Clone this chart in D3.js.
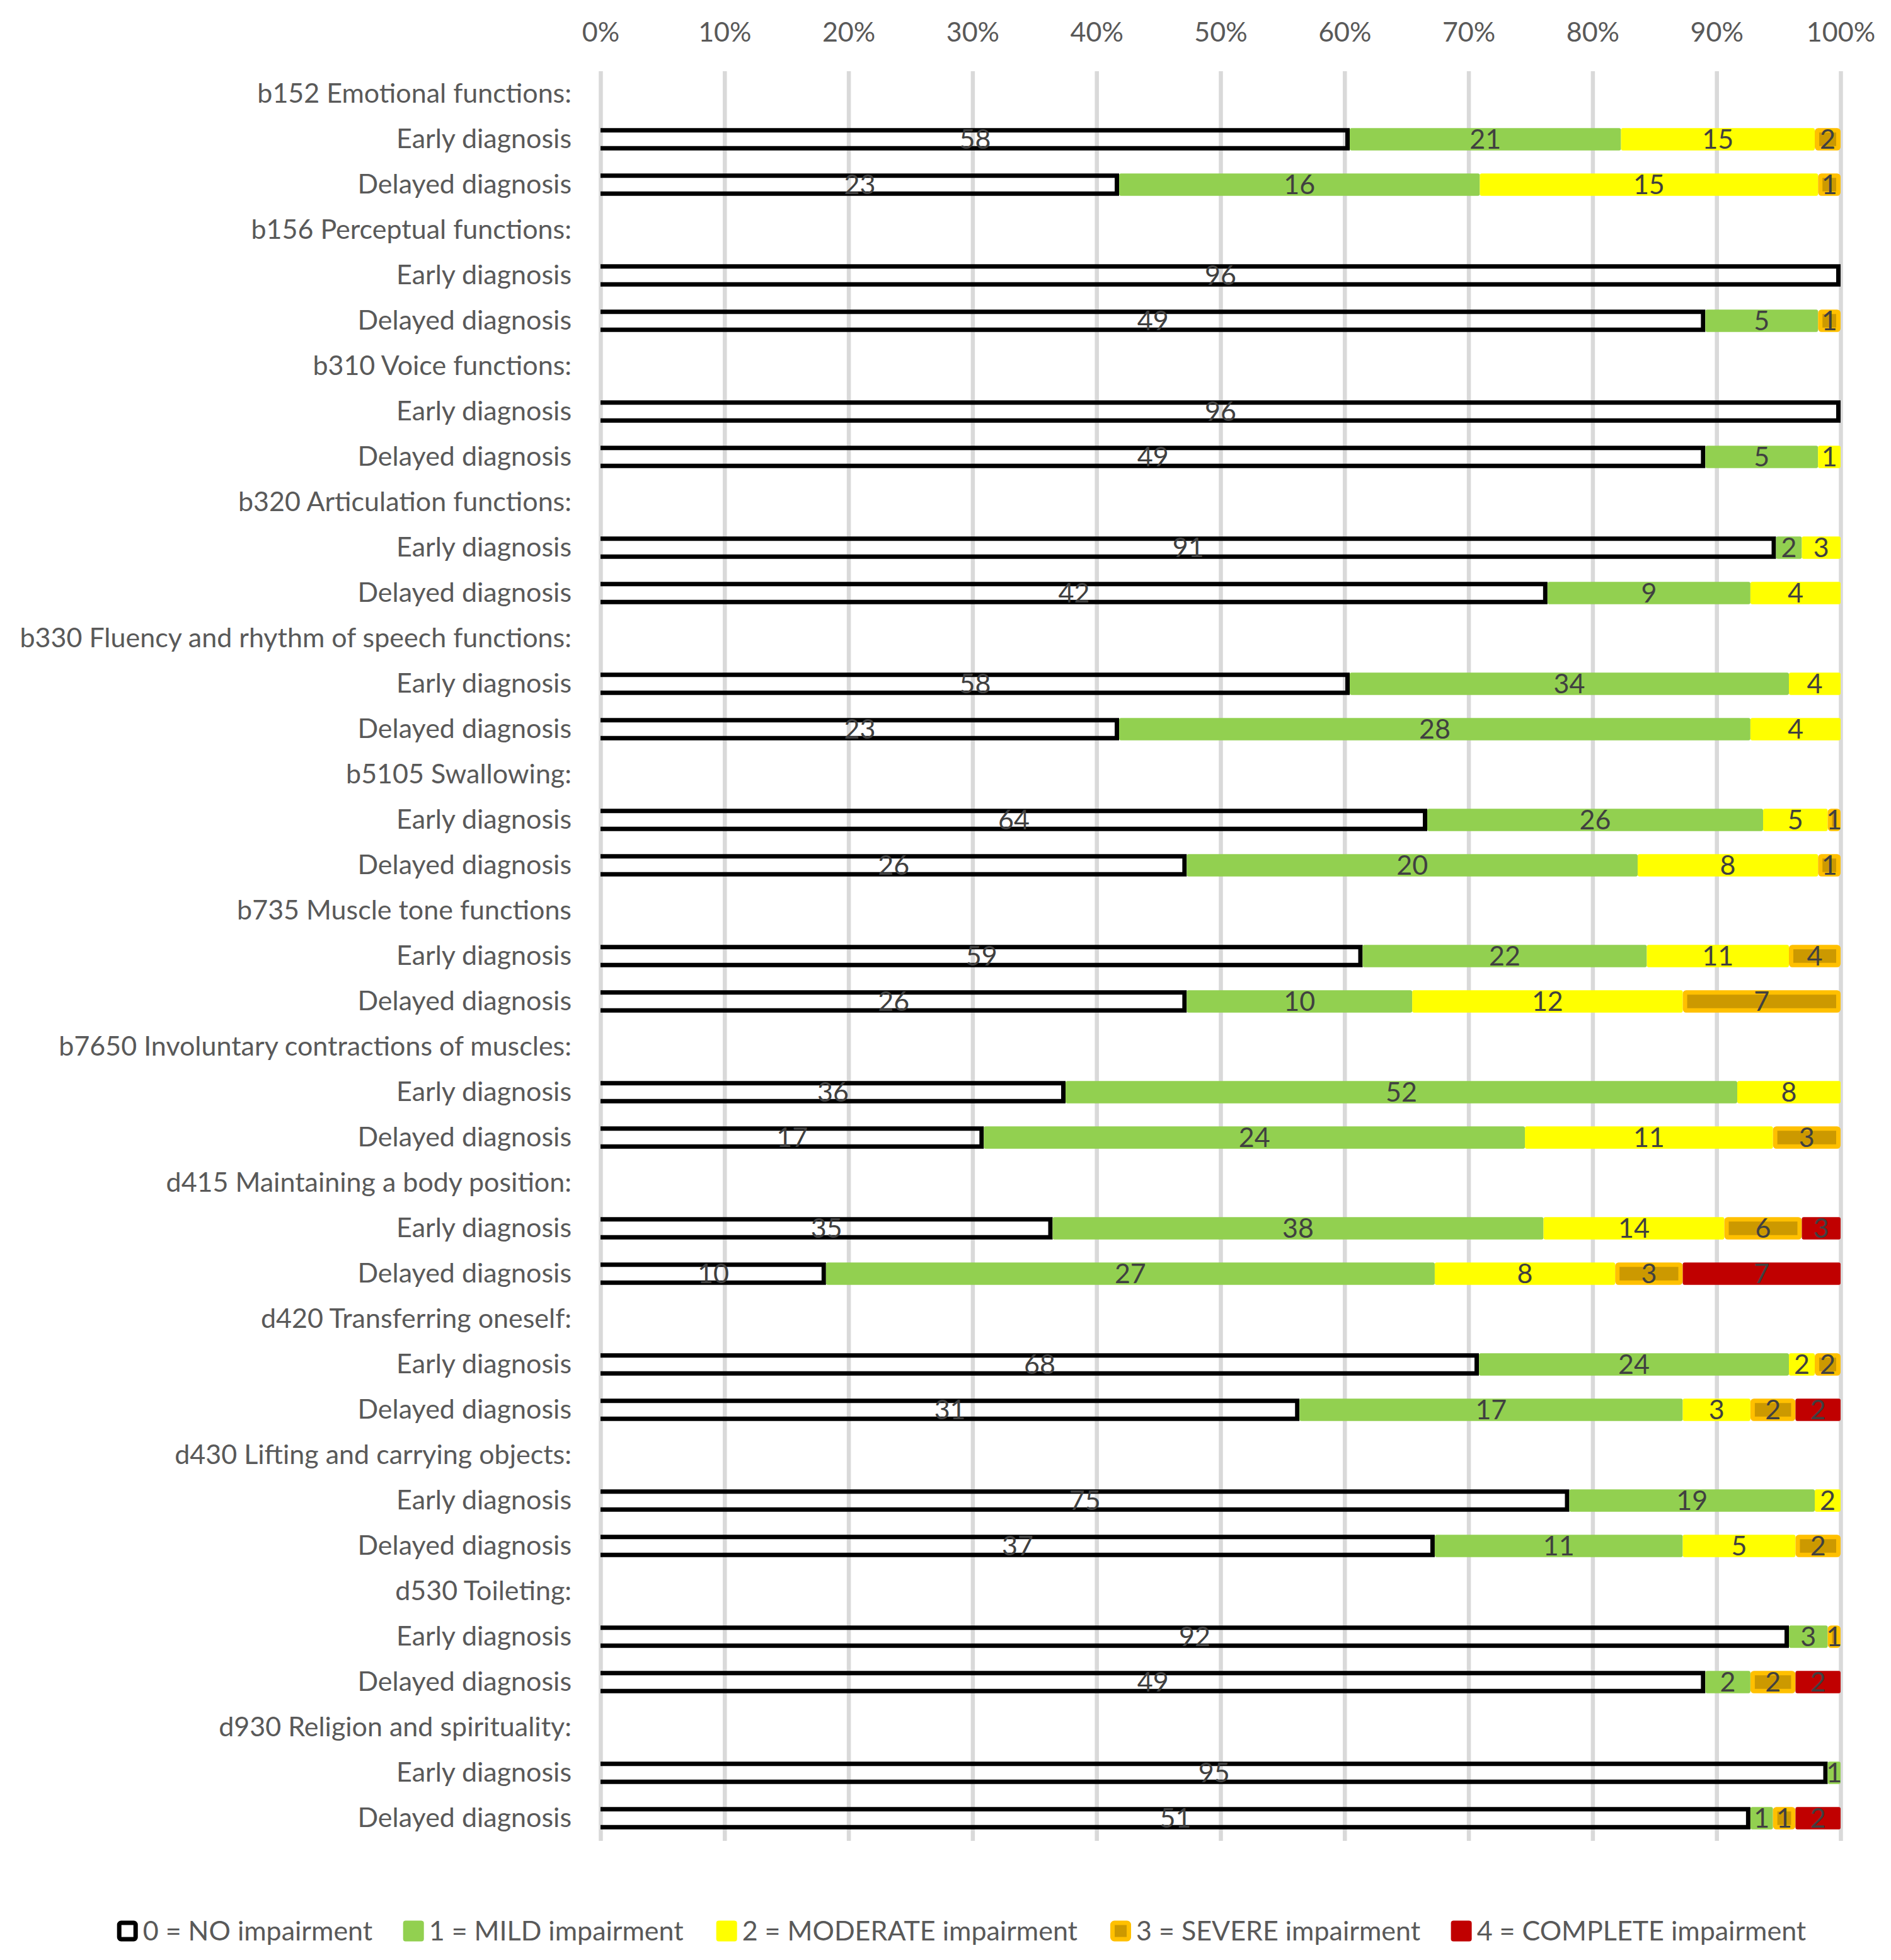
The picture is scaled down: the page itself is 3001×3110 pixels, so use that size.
<!DOCTYPE html>
<html>
<head>
<meta charset="utf-8">
<script src="https://cdn.jsdelivr.net/npm/d3@7"></script>
<style>
  body { margin: 0; background: #fff; }
  text { font-family: Lato, "Open Sans", sans-serif; }
</style>
</head>
<body>
<div id="chart"></div>
<script>
// categories (ICF codes) and the two groups shown under each
const categories = [
    "b152 Emotional functions:",
    "b156 Perceptual functions:",
    "b310 Voice functions:",
    "b320 Articulation functions:",
    "b330 Fluency and rhythm of speech functions:",
    "b5105 Swallowing:",
    "b735 Muscle tone functions",
    "b7650 Involuntary contractions of muscles:",
    "d415 Maintaining a body position:",
    "d420 Transferring oneself:",
    "d430 Lifting and carrying objects:",
    "d530 Toileting:",
    "d930 Religion and spirituality:"
];
const groups = ["Early diagnosis", "Delayed diagnosis"];
const levels = ["none", "mild", "moderate", "severe", "complete"];
const levelNames = [
    "0 = NO impairment",
    "1 = MILD impairment",
    "2 = MODERATE impairment",
    "3 = SEVERE impairment",
    "4 = COMPLETE impairment"
];

// counts per level, one value per category
const noneEarly       = [58, 96, 96, 91, 58, 64, 59, 36, 35, 68, 75, 92, 95];
const noneDelayed     = [23, 49, 49, 42, 23, 26, 26, 17, 10, 31, 37, 49, 51];
const mildEarly       = [21, 0, 0, 2, 34, 26, 22, 52, 38, 24, 19, 3, 1];
const mildDelayed     = [16, 5, 5, 9, 28, 20, 10, 24, 27, 17, 11, 2, 1];
const moderateEarly   = [15, 0, 0, 3, 4, 5, 11, 8, 14, 2, 2, 0, 0];
const moderateDelayed = [15, 0, 1, 4, 4, 8, 12, 11, 8, 3, 5, 0, 0];
const severeEarly     = [2, 0, 0, 0, 0, 1, 4, 0, 6, 2, 0, 1, 0];
const severeDelayed   = [1, 1, 0, 0, 0, 1, 7, 3, 3, 2, 2, 2, 1];
const completeEarly   = [0, 0, 0, 0, 0, 0, 0, 0, 3, 0, 0, 0, 0];
const completeDelayed = [0, 0, 0, 0, 0, 0, 0, 0, 7, 2, 0, 2, 2];

const xTicks = [0, 0.1, 0.2, 0.3, 0.4, 0.5, 0.6, 0.7, 0.8, 0.9, 1];

const colors = {
    none: "#000000",
    mild: "#92D050",
    moderate: "#FFFF00",
    severe: "#FFC000",
    complete: "#C00000"
};
const severeInner = "#CC9900";

const svgWidth = 3001;
const svgHeight = 3110;
const margin = { top: 113, right: 80, bottom: 189, left: 953 };
const chartWidth = 2921 - margin.left;
const chartHeight = svgHeight - margin.top - margin.bottom;
const fontSize = 43;

// build the rows: a header row then early / delayed rows per category
const rows = [];
categories.forEach((c, i) => {
    rows.push({ key: c + "|h", label: c, header: true });
    rows.push({ key: c + "|e", label: groups[0], none: noneEarly[i], mild: mildEarly[i],
        moderate: moderateEarly[i], severe: severeEarly[i], complete: completeEarly[i] });
    rows.push({ key: c + "|d", label: groups[1], none: noneDelayed[i], mild: mildDelayed[i],
        moderate: moderateDelayed[i], severe: severeDelayed[i], complete: completeDelayed[i] });
});
const dataRows = rows.filter(r => !r.header);

const svg = d3.select("#chart")
    .append("svg")
    .attr("width", svgWidth)
    .attr("height", svgHeight);

const chart = svg.append("g")
    .attr("transform", `translate(${margin.left},${margin.top})`);

const xScale = d3.scaleLinear()
    .domain([0, 1])
    .range([0, chartWidth]);

const yScale = d3.scaleBand()
    .domain(rows.map(r => r.key))
    .range([0, chartHeight])
    .paddingInner(0.507)
    .paddingOuter(0.2535);

// gridlines
chart.append("g")
    .attr("class", "grid")
    .call(d3.axisBottom(xScale).tickValues(xTicks).tickSize(chartHeight).tickFormat(""))
    .call(g => g.select(".domain").remove())
    .selectAll("line")
    .attr("stroke", "#D9D9D9")
    .attr("stroke-width", 6.5);

// top percent axis
chart.append("g")
    .call(d3.axisTop(xScale).tickValues(xTicks).tickSize(0).tickPadding(47).tickFormat(d3.format(".0%")))
    .call(g => g.select(".domain").remove())
    .selectAll("text")
    .attr("fill", "#595959")
    .style("font-size", fontSize + "px")
    .style("font-family", "Lato");

// row labels
const labelByKey = {};
rows.forEach(r => labelByKey[r.key] = r.label);
chart.append("g")
    .call(d3.axisLeft(yScale).tickSize(0).tickPadding(46).tickFormat(k => labelByKey[k]))
    .call(g => g.select(".domain").remove())
    .selectAll("text")
    .attr("fill", "#595959")
    .style("font-size", fontSize + "px")
    .style("font-family", "Lato");

const stack = d3.stack()
    .keys(levels)
    .offset(d3.stackOffsetExpand);
const series = stack(dataRows);

const bh = yScale.bandwidth();
const sw = 7;

series.forEach(s => {
    const lvl = s.key;
    const g = chart.append("g").attr("class", "series-" + lvl);
    const segs = s.filter(d => d[1] - d[0] > 0);

    if (lvl === "none") {
        // open box: top, right and bottom edges
        g.selectAll("path")
            .data(segs)
            .enter()
            .append("path")
            .attr("d", d => {
                const x0 = xScale(d[0]), x1 = xScale(d[1]) - sw / 2;
                const y0 = yScale(d.data.key) + sw / 2, y1 = yScale(d.data.key) + bh - sw / 2;
                return `M${x0},${y0}H${x1}V${y1}H${x0}`;
            })
            .attr("fill", "none")
            .attr("stroke", colors.none)
            .attr("stroke-width", sw);
    } else if (lvl === "severe") {
        g.selectAll("rect")
            .data(segs)
            .enter()
            .append("rect")
            .attr("x", d => xScale(d[0]) + sw / 2)
            .attr("y", d => yScale(d.data.key) + sw / 2)
            .attr("width", d => Math.max(0, xScale(d[1]) - xScale(d[0]) - sw))
            .attr("height", bh - sw)
            .attr("rx", 2)
            .attr("fill", severeInner)
            .attr("stroke", colors.severe)
            .attr("stroke-width", sw);
    } else {
        g.selectAll("rect")
            .data(segs)
            .enter()
            .append("rect")
            .attr("x", d => xScale(d[0]))
            .attr("y", d => yScale(d.data.key))
            .attr("width", d => xScale(d[1]) - xScale(d[0]))
            .attr("height", bh)
            .attr("rx", 3)
            .attr("fill", colors[lvl]);
    }
});

// data labels
series.forEach(s => {
    chart.append("g")
        .selectAll("text")
        .data(s.filter(d => d.data[s.key] > 0))
        .enter()
        .append("text")
        .attr("x", d => xScale((d[0] + d[1]) / 2))
        .attr("y", d => yScale(d.data.key) + bh / 2)
        .attr("dy", "0.36em")
        .attr("text-anchor", "middle")
        .attr("fill", "#404040")
        .style("font-size", fontSize + "px")
        .text(d => d.data[s.key]);
});

// legend
const legend = svg.append("g")
    .attr("class", "legend")
    .attr("transform", `translate(0,3064)`);

const items = legend.selectAll(".item")
    .data(levels)
    .enter()
    .append("g")
    .attr("class", "item");

const symW = 33, symGap = 8, itemGap = 52;

items.each(function(lvl, i) {
    const g = d3.select(this);
    if (lvl === "none") {
        g.append("rect").attr("x", 3.5).attr("y", -13).attr("width", symW - 7).attr("height", 26)
            .attr("rx", 3).attr("fill", "#fff").attr("stroke", "#000").attr("stroke-width", 7);
    } else if (lvl === "severe") {
        g.append("rect").attr("x", 3.5).attr("y", -13).attr("width", symW - 7).attr("height", 26)
            .attr("rx", 3).attr("fill", severeInner).attr("stroke", colors.severe).attr("stroke-width", 7);
    } else {
        g.append("rect").attr("x", 0).attr("y", -16.5).attr("width", symW).attr("height", 33)
            .attr("rx", 4).attr("fill", colors[lvl]);
    }
    g.append("text")
        .attr("x", symW + symGap)
        .attr("dy", "0.36em")
        .attr("fill", "#595959")
        .style("font-size", fontSize + "px")
        .text(levelNames[i]);
});

// lay out legend items side by side, centred under the chart
let widths = [];
items.each(function() { widths.push(this.getBBox().width); });
const total = d3.sum(widths) + itemGap * (widths.length - 1);
let cx = (188 + 2864) / 2 - total / 2;
items.attr("transform", (d, i) => {
    const t = `translate(${cx},0)`;
    cx += widths[i] + itemGap;
    return t;
});
</script>
</body>
</html>
